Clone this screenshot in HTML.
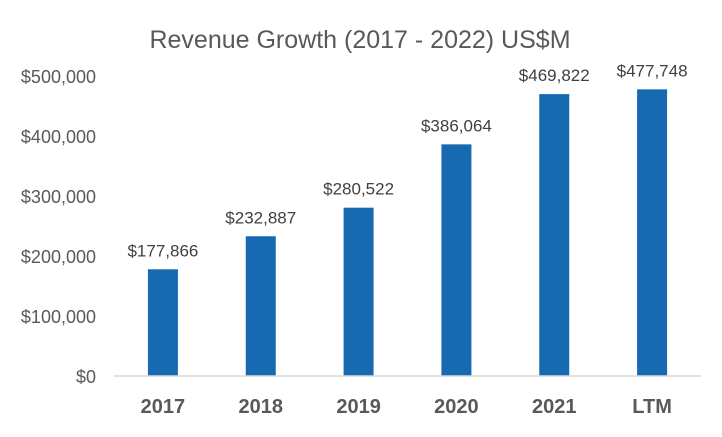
<!DOCTYPE html>
<html><head><meta charset="utf-8"><style>
body{margin:0;background:#fff;}
svg text{font-family:"Liberation Sans",sans-serif;}
</style></head><body>
<svg width="722" height="432" id="c">
<text x="360" y="48" text-anchor="middle" font-size="25" fill="#595959">Revenue Growth (2017 - 2022) US$M</text>
<g id="yaxis"></g>
<g id="bars"></g>
<line x1="114" x2="701" y1="376" y2="376" stroke="#d9d9d9" stroke-width="1.5"/>
</svg>
<script>
const categories=["2017","2018","2019","2020","2021","LTM"];
const values=[177866,232887,280522,386064,469822,477748];
const valueLabels=["$177,866","$232,887","$280,522","$386,064","$469,822","$477,748"];
const ticks=[0,100000,200000,300000,400000,500000];
const tickLabels=["$0","$100,000","$200,000","$300,000","$400,000","$500,000"];
const NS="http://www.w3.org/2000/svg";
const x0=114,x1=701,y0=376,yMax=500000,yTop=76;
const y=v=>y0-(v/yMax)*(y0-yTop);
const bw=(x1-x0)/categories.length;
const xc=i=>x0+bw*(i+0.5);
function mk(t,a,p){const e=document.createElementNS(NS,t);for(const k in a)e.setAttribute(k,a[k]);p.appendChild(e);return e;}
const ya=document.getElementById('yaxis'),bs=document.getElementById('bars');
ticks.forEach((t,i)=>{
 const e=mk('text',{x:96,y:y(t)+7,'text-anchor':'end','font-size':18,fill:'#595959'},ya);
 e.textContent=tickLabels[i];
 
 
});
categories.forEach((c,i)=>{
 const r=mk('rect',{x:xc(i)-15,y:y(values[i]),width:30,height:y0-y(values[i]),fill:'#1769B1'},bs);
 
 
 const l=mk('text',{x:xc(i),y:y(values[i])-13,'text-anchor':'middle','font-size':17,fill:'#404040'},bs);
 l.textContent=valueLabels[i];
 
 
 const xl=mk('text',{x:xc(i),y:413,'text-anchor':'middle','font-size':20,'font-weight':'bold',fill:'#595959'},bs);
 xl.textContent=c;
 
 
});
</script>
</body></html>
